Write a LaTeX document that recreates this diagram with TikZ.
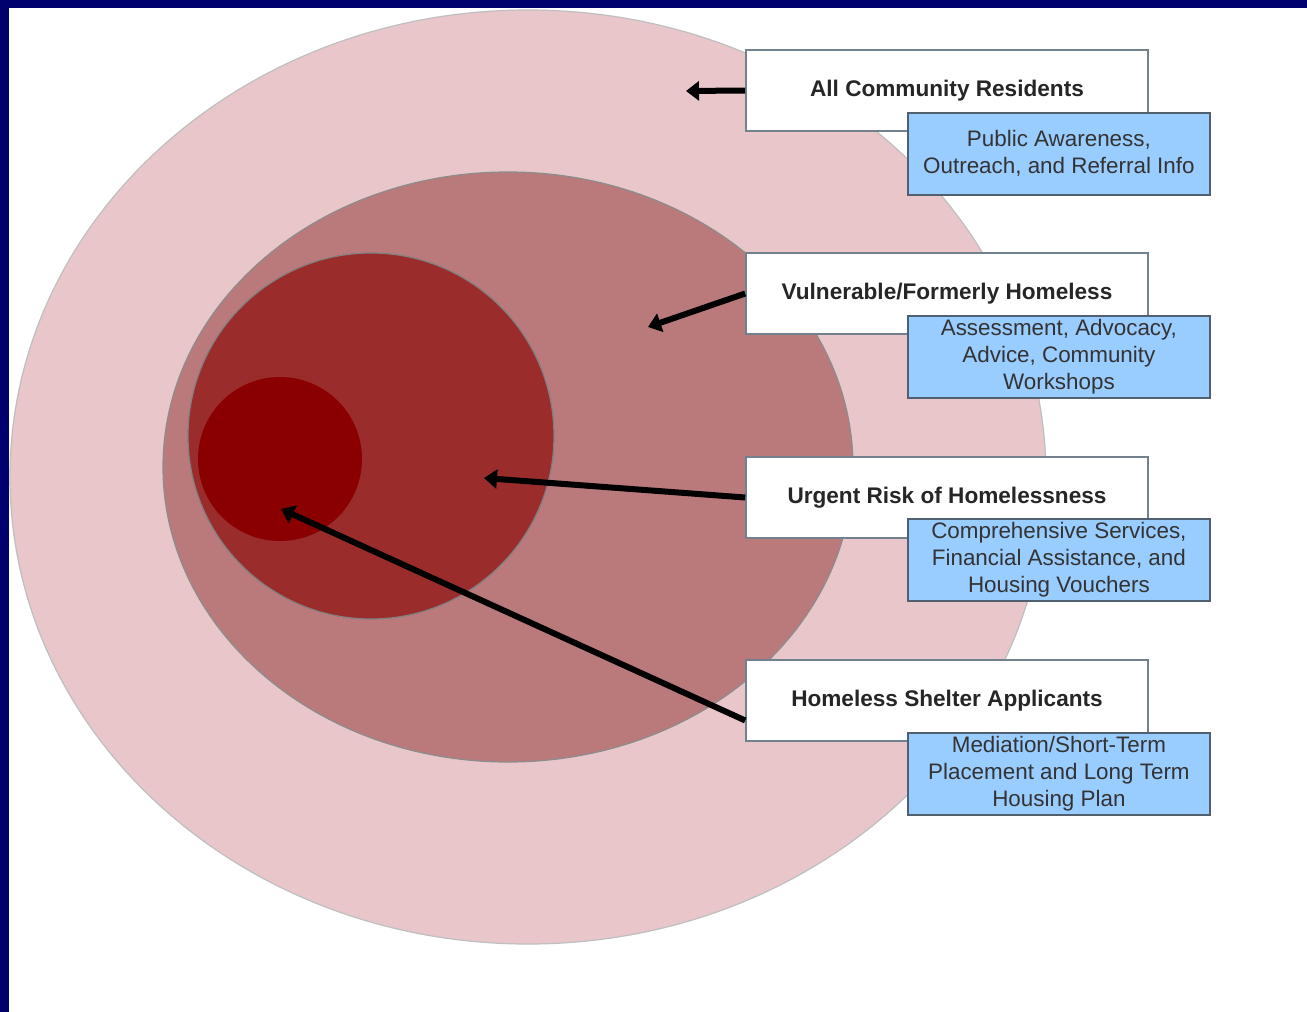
\documentclass[tikz,border=0pt]{standalone}
\usepackage{fontspec}
\setmainfont{Liberation Sans}
\usetikzlibrary{arrows.meta}

\definecolor{frameblue}{RGB}{0,0,110}
\definecolor{ringone}{RGB}{232,198,202}
\definecolor{ringtwo}{RGB}{186,122,124}
\definecolor{ringthree}{RGB}{155,44,44}
\definecolor{ringfour}{RGB}{138,0,0}
\definecolor{tagblue}{RGB}{153,204,255}
\definecolor{tagedge}{RGB}{80,96,112}

\tikzset{
    groupbox/.style={draw=tagedge!80, fill=white, line width=0.8pt,
        minimum width=201pt, minimum height=40.5pt,
        font=\bfseries\fontsize{11.3}{13.5}\selectfont, text=black!85},
    servicebox/.style={draw=tagedge, fill=tagblue, line width=0.9pt,
        minimum width=151pt, minimum height=41pt, align=center,
        inner sep=1pt, font=\fontsize{11.2}{13.5}\selectfont, text=black!80},
    pointer/.style={line width=3pt, -{Triangle[length=6.5pt,width=9.5pt]}}
}

\begin{document}
\begin{tikzpicture}[x=0.5pt, y=-0.5pt]
    \useasboundingbox (0,0) rectangle (1307,1012);
    \fill[white] (0,0) rectangle (1307,1012);

    % Marc
    \fill[frameblue] (0,0) rectangle (9,1012);
    \fill[frameblue] (0,0) rectangle (1307,8);

    % Anells
    \draw[fill=ringone, draw=black!25, line width=0.6pt] (528,477) ellipse [x radius=518, y radius=467];
    \draw[fill=ringtwo, draw=black!45, line width=0.6pt] (508,467) ellipse [x radius=345, y radius=295];
    \draw[fill=ringthree, draw=black!50, line width=0.6pt] (371,436) circle (183);
    \fill[ringfour] (280,459) circle (82);

    % Punts de les fletxes
    \coordinate (pAll) at (686,91);
    \coordinate (pVul) at (648,327);
    \coordinate (pUrg) at (484,478);
    \coordinate (pShe) at (281,509);

    % Etiquetes dels grups
    \node[groupbox] (all) at (947,90.5) {All Community Residents};
    \node[groupbox] (vul) at (947,293.5) {Vulnerable/Formerly Homeless};
    \node[groupbox] (urg) at (947,497.5) {Urgent Risk of Homelessness};
    \node[groupbox] (she) at (947,700.5) {Homeless Shelter Applicants};

    % Fletxes
    \draw[pointer] (all.west) -- (pAll);
    \draw[pointer] (vul.west) -- (pVul);
    \draw[pointer] (urg.west) -- (pUrg);
    \draw[pointer] ([yshift=-10pt]she.west) -- (pShe);

    % Serveis
    \node[servicebox, anchor=north east, xshift=31pt, yshift=10pt] (allS) at (all.south east)
        {Public Awareness,\\Outreach, and Referral Info};
    \node[servicebox, anchor=north east, xshift=31pt, yshift=10pt] (vulS) at (vul.south east)
        {Assessment, Advocacy,\\Advice, Community\\Workshops};
    \node[servicebox, anchor=north east, xshift=31pt, yshift=10.5pt] (urgS) at (urg.south east)
        {Comprehensive Services,\\Financial Assistance, and\\Housing Vouchers};
    \node[servicebox, anchor=north east, xshift=31pt, yshift=5pt] (sheS) at (she.south east)
        {Mediation/Short-Term\\Placement and Long Term\\Housing Plan};
\end{tikzpicture}
\end{document}
